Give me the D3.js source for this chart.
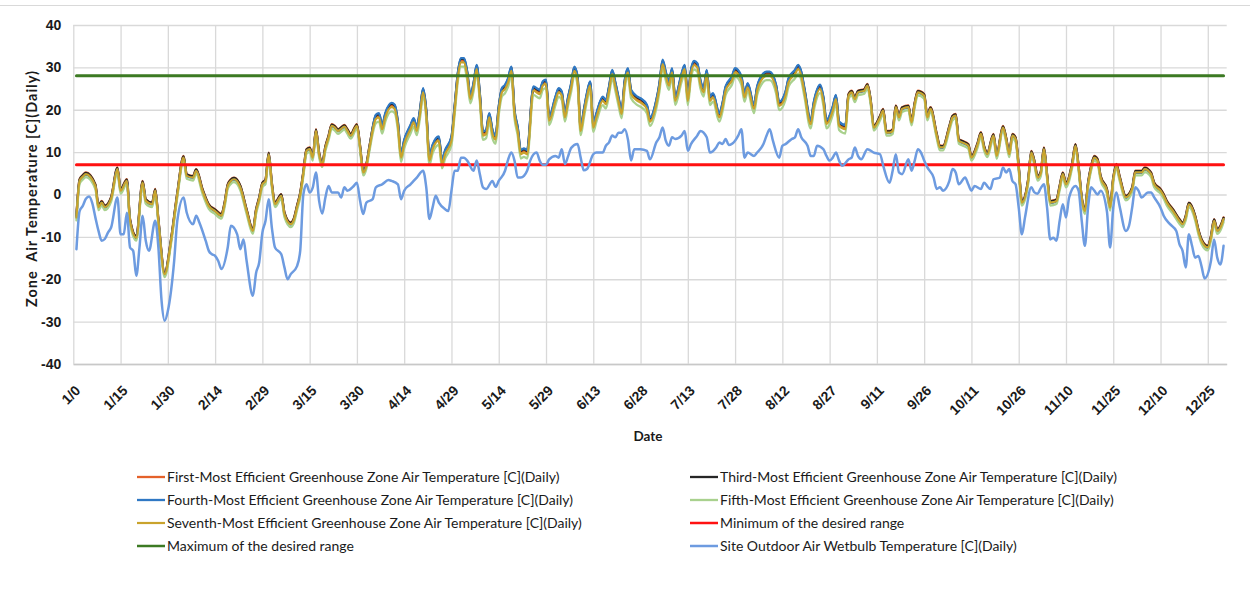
<!DOCTYPE html>
<html>
<head>
<meta charset="utf-8">
<script src="https://cdn.jsdelivr.net/npm/d3@7/dist/d3.min.js"></script>
<style>
  html, body { margin: 0; padding: 0; background: #ffffff; }
  svg { display: block; font-family: Lato, "Open Sans", "Liberation Sans", sans-serif; }
</style>
</head>
<body>
<svg id="chart" width="1250" height="603"></svg>
<script>
// ---- Axis ticks ----
const tickDays = [0,15,30,45,60,75,90,105,120,135,150,165,180,195,210,225,240,255,270,285,300,315,330,345,360];
const tickLabels = ["1/0","1/15","1/30","2/14","2/29","3/15","3/30","4/14","4/29","5/14","5/29","6/13","6/28",
  "7/13","7/28","8/12","8/27","9/11","9/26","10/11","10/26","11/10","11/25","12/10","12/25"];
const yTicks = [-40,-30,-20,-10,0,10,20,30,40];

// ---- Greenhouse zone air temperature (day of year, °C) ----
const zoneDays = [1,2,3,4,7,8,9,10,12,14,15,17,18,20,22,23,25,26,27,29,31,33,35,36,38,39,41,43,45,47,48,49,50,51,53,55,57,58,59,60,61,62,63,64,66,67,69,70,71,72,73,74,75,76,77,78,79,80,81,82,83,84,85,86,87,88,90,91,92,93,94,
  96,97,98,99,101,102,103,104,105,107,108,109,110,111,112,113,114,116,117,118,120,121,122,123,124,125,126,127,128,129,130,131,132,133,134,135,136,137,138,139,140,141,142,143,144,146,148,149,150,151,153,154,155,156,157,158,159,160,161,162,163,164,165,166,168,169,170,171,172,173,174,175,176,177,179,180,182,183,185,186,187,188,189,190,191,193,194,195,196,197,198,199,200,201,202,203,205,206,207,209,210,212,213,214,216,217,219,220,221,223,224,226,227,229,230,231,232,234,235,237,238,239,241,242,243,245,
  246,247,248,249,251,252,253,254,256,257,258,259,260,261,262,263,265,266,267,268,270,271,272,274,275,276,278,279,280,281,282,284,285,
  287,288,289,290,292,293,295,296,297,298,299,300,301,303,304,305,306,307,308,309,310,311,312,313,314,315,317,318,319,320,321,322,323,324,325,326,328,329,330,331,332,334,336,337,339,340,342,343,345,346,347,349,351,352,353,354,356,357,358,360,361,362,363,364,365];

const firstMost = [-5.0,3.6,4.6,5.2,2.4,-2.6,-1.5,-2.6,-0.6,6.4,1.3,3.6,-5.8,-9.8,3.2,-1.1,-1.9,1.3,-5.8,-18.4,-10.6,0.4,9.1,4.8,4.4,6.0,1.3,-2.3,-3.5,-4.6,-1.9,2.4,3.6,4.0,2.1,-3.5,-8.2,-3.5,-0.6,2.8,3.6,9.9,2.8,-1.9,0.1,-4.2,-6.6,-5.6,-2.6,0.4,5.4,10.7,11.1,9.1,15.4,9.9,7.6,11.4,13.9,16.6,16.2,15.4,15.9,16.4,15.4,14.3,16.6,11.5,5.6,7.2,11.5,
  18.2,18.6,15.8,18.6,21.0,20.6,16.6,9.1,12.3,15.8,17.4,15.4,19.4,24.5,19.4,8.4,11.1,13.1,7.6,9.9,13.1,20.2,28.0,31.6,31.6,28.4,22.9,25.7,30.0,23.3,14.3,14.7,18.6,14.7,13.4,20.2,24.5,25.3,26.9,29.6,19.4,15.4,9.9,10.3,9.9,24.9,24.1,26.1,26.5,17.8,22.5,24.5,23.7,18.6,22.4,25.7,29.6,27.3,15.4,19.4,23.4,26.1,16.2,18.6,22.5,21.7,24.9,28.8,25.9,22.4,19.4,26.5,29.2,24.1,22.5,22.1,20.6,17.6,21.7,25.7,31.2,28.4,26.1,29.2,22.5,27.9,30.0,22.5,28.8,30.9,30.4,26.4,24.5,28.8,22.5,23.3,18.6,21.0,24.9,27.3,29.2,27.3,23.3,25.7,20.6,24.9,28.0,28.4,28.4,25.3,21.3,23.7,26.9,28.8,30.0,28.4,24.5,17.0,21.3,25.3,22.5,17.0,20.2,22.9,16.6,15.8,
  23.7,24.5,22.9,24.5,24.9,26.1,22.5,16.2,18.6,20.2,15.0,15.0,15.4,21.0,18.6,20.6,21.0,17.4,21.7,24.5,23.7,18.6,20.6,14.3,11.5,11.5,16.2,18.6,19.0,13.1,12.7,11.9,9.1,
  12.3,14.7,11.5,9.9,14.3,9.5,16.2,13.5,9.9,14.3,13.5,6.8,-1.5,3.6,10.3,7.9,4.4,5.4,11.1,4.8,-1.5,-1.4,-1.1,2.1,5.2,2.8,7.6,11.9,6.8,-0.6,-3.5,2.8,6.8,9.1,8.4,4.4,1.3,-2.7,4.0,7.2,4.4,-0.3,1.7,5.6,5.6,6.4,5.2,2.8,1.3,0.1,-1.5,-3.5,-5.8,-6.6,-5.0,-1.9,-5.0,-8.2,-10.5,-12.1,-9.8,-5.8,-8.2,-7.4,-5.4];

const thirdMost = [-5.1,3.5,4.5,5.1,2.3,-2.7,-1.6,-2.7,-0.7,6.3,1.2,3.5,-5.9,-9.9,3.1,-1.2,-2.0,1.2,-5.9,-18.5,-10.7,0.3,9.0,4.7,4.3,5.9,1.2,-2.4,-3.6,-4.7,-2.0,2.3,3.5,3.9,2.0,-3.6,-8.3,-3.6,-0.7,2.7,3.5,9.8,2.7,-2.0,0.0,-4.3,-6.7,-5.7,-2.7,0.3,5.3,10.6,11.0,9.0,15.3,9.8,7.5,11.3,13.8,16.5,16.1,15.3,15.8,16.3,15.3,14.2,16.5,11.4,5.5,7.1,11.4,
  18.6,19.0,16.2,19.0,21.4,21.0,17.0,9.5,12.7,16.2,17.8,15.8,19.8,24.9,19.8,8.8,11.5,13.5,8.0,10.3,13.5,20.6,28.4,32.0,32.0,28.8,23.3,26.1,30.4,23.7,14.7,15.1,19.0,15.1,13.8,20.6,24.9,25.7,27.3,30.0,19.8,15.8,10.3,10.7,10.3,25.3,24.5,26.5,26.9,18.2,22.9,24.9,24.1,19.0,22.8,26.1,30.0,27.7,15.8,19.8,23.8,26.5,16.6,19.0,22.9,22.1,25.3,29.2,26.3,22.8,19.8,26.9,29.6,24.5,22.9,22.5,21.0,18.0,22.1,26.1,31.6,28.8,26.5,29.6,22.9,28.3,30.4,22.9,29.2,31.3,30.8,26.8,24.9,29.2,22.9,23.7,19.0,21.4,25.3,27.7,29.6,27.7,23.7,26.1,21.0,25.3,28.4,28.8,28.8,25.7,21.7,24.1,27.3,29.2,30.4,28.8,24.9,17.4,21.7,25.7,22.9,17.4,20.6,23.3,17.0,16.2,
  23.6,24.4,22.8,24.4,24.8,26.0,22.4,16.1,18.5,20.1,14.9,14.9,15.3,20.9,18.5,20.5,20.9,17.3,21.6,24.4,23.6,18.5,20.5,14.2,11.4,11.4,16.1,18.5,18.9,13.0,12.6,11.8,9.0,
  12.2,14.6,11.4,9.8,14.2,9.4,16.1,13.4,9.8,14.2,13.4,6.7,-1.6,3.5,10.2,7.8,4.3,5.3,11.0,4.7,-1.6,-1.5,-1.2,2.0,5.1,2.7,7.5,11.8,6.7,-0.7,-3.6,2.7,6.7,9.0,8.3,4.3,1.2,-2.8,3.9,7.1,4.3,-0.4,1.6,5.5,5.5,6.3,5.1,2.7,1.2,0.0,-1.6,-3.6,-5.9,-6.7,-5.1,-2.0,-5.1,-8.3,-10.6,-12.2,-9.9,-5.9,-8.3,-7.5,-5.5];

const fourthMost = [-5.5,3.1,4.1,4.7,1.9,-3.1,-2.0,-3.1,-1.1,5.9,0.8,3.1,-6.3,-10.3,2.7,-1.6,-2.4,0.8,-6.3,-18.9,-11.1,-0.1,8.6,4.3,3.9,5.5,0.8,-2.8,-4.0,-5.1,-2.4,1.9,3.1,3.5,1.6,-4.0,-8.7,-4.0,-1.1,2.3,3.1,9.4,2.3,-2.4,-0.4,-4.7,-7.1,-6.1,-3.1,-0.1,4.9,10.2,10.6,8.6,14.9,9.4,7.1,10.9,13.4,16.1,15.7,14.9,15.4,15.9,14.9,13.8,16.1,11.0,5.1,6.7,11.0,
  18.8,19.2,16.4,19.2,21.6,21.2,17.2,9.7,12.9,16.4,18.0,16.0,20.0,25.1,20.0,9.0,11.7,13.7,8.2,10.5,13.7,20.8,28.6,32.2,32.2,29.0,23.5,26.3,30.6,23.9,14.9,15.3,19.2,15.3,14.0,20.8,25.1,25.9,27.5,30.2,20.0,16.0,10.5,10.9,10.5,25.5,24.7,26.7,27.1,18.4,23.1,25.1,24.3,19.2,23.0,26.3,30.2,27.9,16.0,20.0,24.0,26.7,16.8,19.2,23.1,22.3,25.5,29.4,26.5,23.0,20.0,27.1,29.8,24.7,23.1,22.7,21.2,18.2,22.3,26.3,31.8,29.0,26.7,29.8,23.1,28.5,30.6,23.1,29.4,31.5,31.0,27.0,25.1,29.4,23.1,23.9,19.2,21.6,25.5,27.9,29.8,27.9,23.9,26.3,21.2,25.5,28.6,29.0,29.0,25.9,21.9,24.3,27.5,29.4,30.6,29.0,25.1,17.6,21.9,25.9,23.1,17.6,20.8,23.5,17.2,16.4,
  23.2,24.0,22.4,24.0,24.4,25.6,22.0,15.7,18.1,19.7,14.5,14.5,14.9,20.5,18.1,20.1,20.5,16.9,21.2,24.0,23.2,18.1,20.1,13.8,11.0,11.0,15.7,18.1,18.5,12.6,12.2,11.4,8.6,
  11.8,14.2,11.0,9.4,13.8,9.0,15.7,13.0,9.4,13.8,13.0,6.3,-2.0,3.1,9.8,7.4,3.9,4.9,10.6,4.3,-2.0,-1.9,-1.6,1.6,4.7,2.3,7.1,11.4,6.3,-1.1,-4.0,2.3,6.3,8.6,7.9,3.9,0.8,-3.2,3.5,6.7,3.9,-0.8,1.2,5.1,5.1,5.9,4.7,2.3,0.8,-0.4,-2.0,-4.0,-6.3,-7.1,-5.5,-2.4,-5.5,-8.7,-11.0,-12.6,-10.3,-6.3,-8.7,-7.9,-5.9];

const fifthMost = [-6.1,2.5,3.5,4.1,1.3,-3.7,-2.6,-3.7,-1.7,5.3,0.2,2.5,-6.9,-10.9,2.1,-2.2,-3.0,0.2,-6.9,-19.5,-11.7,-0.7,8.0,3.7,3.3,4.9,0.2,-3.4,-4.6,-5.7,-3.0,1.3,2.5,2.9,1.0,-4.6,-9.3,-4.6,-1.7,1.7,2.5,8.8,1.7,-3.0,-1.0,-5.3,-7.7,-6.7,-3.7,-0.7,4.3,9.6,10.0,8.0,14.3,8.8,6.5,10.3,12.8,15.5,15.1,14.3,14.8,15.3,14.3,13.2,15.5,10.4,4.5,6.1,10.4,
  16.8,17.2,14.4,17.2,19.6,19.2,15.2,7.7,10.9,14.4,16.0,14.0,18.0,23.1,18.0,7.0,9.7,11.7,6.2,8.5,11.7,18.8,26.6,30.2,30.2,27.0,21.5,24.3,28.6,21.9,12.9,13.3,17.2,13.3,12.0,18.8,23.1,23.9,25.5,28.2,18.0,14.0,8.5,8.9,8.5,23.5,22.7,24.7,25.1,16.4,21.1,23.1,22.3,17.2,21.0,24.3,28.2,25.9,14.0,18.0,22.0,24.7,14.8,17.2,21.1,20.3,23.5,27.4,24.5,21.0,18.0,25.1,27.8,22.7,21.1,20.7,19.2,16.2,20.3,24.3,29.8,27.0,24.7,27.8,21.1,26.5,28.6,21.1,27.4,29.5,29.0,25.0,23.1,27.4,21.1,21.9,17.2,19.6,23.5,25.9,27.8,25.9,21.9,24.3,19.2,23.5,26.6,27.0,27.0,23.9,19.9,22.3,25.5,27.4,28.6,27.0,23.1,15.6,19.9,23.9,21.1,15.6,18.8,21.5,15.2,14.4,
  22.6,23.4,21.8,23.4,23.8,25.0,21.4,15.1,17.5,19.1,13.9,13.9,14.3,19.9,17.5,19.5,19.9,16.3,20.6,23.4,22.6,17.5,19.5,13.2,10.4,10.4,15.1,17.5,17.9,12.0,11.6,10.8,8.0,
  11.2,13.6,10.4,8.8,13.2,8.4,15.1,12.4,8.8,13.2,12.4,5.7,-2.6,2.5,9.2,6.8,3.3,4.3,10.0,3.7,-2.6,-2.5,-2.2,1.0,4.1,1.7,6.5,10.8,5.7,-1.7,-4.6,1.7,5.7,8.0,7.3,3.3,0.2,-3.8,2.9,6.1,3.3,-1.4,0.6,4.5,4.5,5.3,4.1,1.7,0.2,-1.0,-2.6,-4.6,-6.9,-7.7,-6.1,-3.0,-6.1,-9.3,-11.6,-13.2,-10.9,-6.9,-9.3,-8.5,-6.5];

const seventhMost = [-5.4,3.2,4.2,4.8,2.0,-3.0,-1.9,-3.0,-1.0,6.0,0.9,3.2,-6.2,-10.2,2.8,-1.5,-2.3,0.9,-6.2,-18.8,-11.0,0.0,8.7,4.4,4.0,5.6,0.9,-2.7,-3.9,-5.0,-2.3,2.0,3.2,3.6,1.7,-3.9,-8.6,-3.9,-1.0,2.4,3.2,9.5,2.4,-2.3,-0.3,-4.6,-7.0,-6.0,-3.0,0.0,5.0,10.3,10.7,8.7,15.0,9.5,7.2,11.0,13.5,16.2,15.8,15.0,15.5,16.0,15.0,13.9,16.2,11.1,5.2,6.8,11.1,
  17.8,18.2,15.4,18.2,20.6,20.2,16.2,8.7,11.9,15.4,17.0,15.0,19.0,24.1,19.0,8.0,10.7,12.7,7.2,9.5,12.7,19.8,27.6,31.2,31.2,28.0,22.5,25.3,29.6,22.9,13.9,14.3,18.2,14.3,13.0,19.8,24.1,24.9,26.5,29.2,19.0,15.0,9.5,9.9,9.5,24.5,23.7,25.7,26.1,17.4,22.1,24.1,23.3,18.2,22.0,25.3,29.2,26.9,15.0,19.0,23.0,25.7,15.8,18.2,22.1,21.3,24.5,28.4,25.5,22.0,19.0,26.1,28.8,23.7,22.1,21.7,20.2,17.2,21.3,25.3,30.8,28.0,25.7,28.8,22.1,27.5,29.6,22.1,28.4,30.5,30.0,26.0,24.1,28.4,22.1,22.9,18.2,20.6,24.5,26.9,28.8,26.9,22.9,25.3,20.2,24.5,27.6,28.0,28.0,24.9,20.9,23.3,26.5,28.4,29.6,28.0,24.1,16.6,20.9,24.9,22.1,16.6,19.8,22.5,16.2,15.4,
  23.3,24.1,22.5,24.1,24.5,25.7,22.1,15.8,18.2,19.8,14.6,14.6,15.0,20.6,18.2,20.2,20.6,17.0,21.3,24.1,23.3,18.2,20.2,13.9,11.1,11.1,15.8,18.2,18.6,12.7,12.3,11.5,8.7,
  11.9,14.3,11.1,9.5,13.9,9.1,15.8,13.1,9.5,13.9,13.1,6.4,-1.9,3.2,9.9,7.5,4.0,5.0,10.7,4.4,-1.9,-1.8,-1.5,1.7,4.8,2.4,7.2,11.5,6.4,-1.0,-3.9,2.4,6.4,8.7,8.0,4.0,0.9,-3.1,3.6,6.8,4.0,-0.7,1.3,5.2,5.2,6.0,4.8,2.4,0.9,-0.3,-1.9,-3.9,-6.2,-7.0,-5.4,-2.3,-5.4,-8.6,-10.9,-12.5,-10.2,-6.2,-8.6,-7.8,-5.8];

// ---- Desired range limits (°C) ----
const rangeDays = [1, 365];
const minimumRange = [7, 7];
const maximumRange = [28, 28];

// ---- Site outdoor wet-bulb temperature: [day, °C] ----
const wetbulb = [[1,-12.9],[2,-3.9],[3,-2.7],[4,-1.0],[5,-0.5],[6,-2.0],[7,-5.4],[8,-8.6],[9,-10.9],[10,-10.5],[11,-9.0],[12,-7.8],[14,-0.7],[15,-9.4],[16,-9.4],[17,-4.3],[18,-12.5],[19,-13.3],[20,-19.2],[21,-12.5],[22,-5.0],[23,-10.9],[24,-13.3],[26,-6.2],[27,-12.5],[28,-25.0],[29,-29.8],[30,-27.5],[32,-15.7],[33,-6.2],[35,-0.7],[36,-4.3],[38,-7.0],[39,-5.0],[40,-6.6],[42,-10.9],[43,-13.3],[44,-14.1],[45,-14.5],[46,-15.7],[47,-17.6],[49,-12.5],[50,-7.4],[52,-9.4],[53,-12.9],[54,-10.6],[55,-15.7],[57,-23.9],[58,-18.5],[59,-16.0],[60,-9.0],[61,-6.2],[62,-1.1],[63,-7.8],[64,-12.5],[66,-14.1],[67,-17.2],[68,-20.0],[69,-18.8],[71,-16.9],[72,-13.3],[73,0.0],[74,2.4],[75,0.5],[76,1.7],[77,5.2],[78,-1.5],[79,-4.5],[80,-0.7],[81,2.0],[82,0.5],[84,0.5],[85,-0.7],[86,1.7],[87,0.9],[89,2.0],[90,2.8],[91,-1.5],[92,-4.6],[93,-1.9],[95,-1.1],[96,1.7],[98,2.4],[100,3.4],[101,3.2],[103,2.4],[104,-1.1],[105,0.9],[107,2.4],[108,3.2],[109,4.0],[111,5.6],[112,1.7],[113,-5.8],[114,-3.1],[115,-0.3],[116,-1.9],[118,-3.5],[119,-3.9],[120,0.9],[121,5.6],[122,5.6],[123,8.7],[124,8.7],[125,8.0],[127,5.6],[128,8.0],[129,4.8],[130,1.7],[131,1.3],[133,3.2],[134,1.8],[135,3.2],[137,5.6],[138,8.3],[139,9.9],[140,8.0],[141,4.0],[142,4.0],[143,4.4],[144,5.6],[145,8.0],[147,9.9],[148,8.0],[149,7.0],[150,7.0],[151,8.3],[153,9.1],[154,8.7],[155,10.7],[156,7.2],[157,9.0],[158,11.0],[160,11.9],[161,8.7],[162,5.7],[163,6.0],[165,9.5],[166,9.9],[168,9.9],[169,11.5],[170,12.3],[171,13.9],[172,13.5],[173,14.6],[174,14.6],[175,15.4],[176,13.0],[177,8.0],[178,10.7],[180,10.7],[182,10.3],[183,8.3],[185,12.3],[186,13.5],[187,15.8],[188,12.7],[189,11.5],[190,13.5],[191,13.1],[193,13.9],[194,15.0],[195,10.3],[196,11.9],[198,13.9],[199,15.0],[201,13.5],[202,9.9],[204,11.1],[205,12.3],[206,11.9],[207,13.1],[208,11.7],[210,12.7],[211,13.9],[212,15.4],[213,8.7],[214,9.9],[216,9.1],[217,9.9],[219,11.9],[220,13.9],[221,15.4],[222,12.7],[224,8.7],[225,11.5],[226,11.9],[228,13.1],[229,13.5],[230,15.4],[231,13.5],[233,11.5],[234,9.1],[235,9.1],[236,11.5],[238,10.7],[239,9.1],[240,8.0],[241,8.7],[242,9.9],[243,8.0],[244,6.8],[245,7.4],[246,8.3],[247,8.7],[248,11.1],[249,9.1],[250,8.3],[252,10.7],[254,9.9],[256,9.5],[257,6.8],[259,2.8],[260,5.6],[261,9.5],[262,5.2],[263,4.8],[265,8.3],[266,5.6],[267,8.0],[268,10.7],[269,9.9],[270,8.0],[271,6.4],[273,4.0],[274,1.3],[275,1.7],[276,0.9],[278,3.2],[279,6.0],[280,5.2],[281,2.4],[283,4.0],[284,2.4],[285,0.9],[286,2.0],[288,1.3],[289,2.8],[290,2.0],[291,1.3],[292,3.6],[294,4.0],[295,6.4],[296,5.2],[297,6.0],[298,3.2],[299,2.4],[300,-3.1],[301,-9.4],[302,-5.4],[304,1.7],[305,0.5],[306,0.2],[307,1.5],[308,2.4],[309,-3.1],[310,-10.6],[311,-10.2],[312,-10.9],[313,-6.2],[314,-2.3],[315,-5.4],[316,-0.7],[318,2.0],[319,0.9],[320,-6.2],[321,-12.1],[322,-3.1],[323,1.7],[324,0.9],[325,0.0],[326,0.9],[328,-4.0],[329,-12.5],[330,-3.1],[331,0.5],[332,-2.7],[334,-8.6],[335,-7.4],[336,-3.1],[337,1.7],[338,0.9],[339,-0.7],[341,0.5],[342,0.5],[343,-0.7],[345,-3.1],[346,-5.0],[348,-7.0],[350,-8.6],[351,-11.7],[352,-13.3],[353,-17.2],[354,-9.4],[355,-12.1],[356,-14.9],[357,-14.5],[358,-16.9],[359,-19.8],[361,-15.7],[362,-10.6],[363,-14.9],[364,-16.5],[365,-12.1]];

// ---- Series styling / legend order ----
const seriesNames = [
  "First-Most Efficient Greenhouse Zone Air Temperature [C](Daily)",
  "Third-Most Efficient Greenhouse Zone Air Temperature [C](Daily)",
  "Fourth-Most Efficient Greenhouse Zone Air Temperature [C](Daily)",
  "Fifth-Most Efficient Greenhouse Zone Air Temperature [C](Daily)",
  "Seventh-Most Efficient Greenhouse Zone Air Temperature [C](Daily)",
  "Minimum of the desired range",
  "Maximum of the desired range",
  "Site Outdoor Air Wetbulb Temperature [C](Daily)"
];
const seriesColors = ["#e4612a", "#262626", "#2f78c4", "#a9d18e", "#c9a32c", "#ff1111", "#3c7a23", "#6d9be0"];
const seriesWidths = [2.3, 2.3, 2.3, 2.3, 2.2, 3, 3, 2.5];

// ---- Build point lists ----
const zoneValues = [firstMost, thirdMost, fourthMost, fifthMost, seventhMost];
const seriesPoints = zoneValues.map(vals =>
  zoneDays.map((d, i) => [d, vals[i]]).filter(p => p[1] !== undefined));
seriesPoints.push(rangeDays.map((d, i) => [d, minimumRange[i]]));
seriesPoints.push(rangeDays.map((d, i) => [d, maximumRange[i]]));
seriesPoints.push(wetbulb);

// ---- Layout ----
const svg = d3.select("#chart");
const plot = { left: 73.3, right: 1226.7, top: 25, bottom: 364 };
const x = d3.scaleLinear().domain([0, 366]).range([plot.left, plot.right]);
const y = d3.scaleLinear().domain([-40, 40]).range([plot.bottom, plot.top]);

svg.append("rect").attr("width", 1250).attr("height", 603).attr("fill", "#ffffff");
svg.append("line").attr("x1", 0).attr("x2", 1250).attr("y1", 5.5).attr("y2", 5.5)
  .attr("stroke", "#d9d9d9").attr("stroke-width", 1);

// Horizontal gridlines + y labels
const gy = svg.append("g").attr("transform", `translate(${plot.left},0)`)
  .call(d3.axisLeft(y).tickValues(yTicks).tickFormat(d => String(d))
    .tickSize(-(plot.right - plot.left)).tickSizeOuter(0).tickPadding(12));
gy.select(".domain").remove();
gy.selectAll(".tick line").attr("stroke", "#d9d9d9").attr("stroke-width", 1.3);
gy.selectAll(".tick text").attr("fill", "#1a1a1a").attr("font-size", 14).attr("font-weight", 700);

// Vertical gridlines + date labels
const gx = svg.append("g").attr("transform", `translate(0,${plot.bottom})`)
  .call(d3.axisBottom(x).tickValues(tickDays).tickFormat((d, i) => tickLabels[i])
    .tickSize(-(plot.bottom - plot.top)).tickSizeOuter(0));
gx.select(".domain").attr("stroke", "#c8c8c8").attr("stroke-width", 1.3);
gx.selectAll(".tick line").attr("stroke", "#d9d9d9").attr("stroke-width", 1.3);
gx.selectAll(".tick text")
  .attr("fill", "#1a1a1a").attr("font-size", 14).attr("font-weight", 700)
  .attr("text-anchor", "end").attr("x", 0).attr("y", 0).attr("dy", "0.35em")
  .attr("transform", "translate(4,24) rotate(-45)");

// Series lines
const line = d3.line().x(p => x(p[0])).y(p => y(p[1])).curve(d3.curveMonotoneX);
svg.append("g").selectAll("path").data(seriesPoints).join("path")
  .attr("d", line)
  .attr("fill", "none")
  .attr("stroke", (d, i) => seriesColors[i])
  .attr("stroke-width", (d, i) => seriesWidths[i])
  .attr("stroke-linejoin", "round").attr("stroke-linecap", "round");

// Axis titles
svg.append("text").attr("transform", "translate(37,189) rotate(-90)")
  .attr("text-anchor", "middle").attr("font-size", 14.5).attr("font-weight", 700)
  .attr("fill", "#1a1a1a").style("white-space", "pre")
  .attr("textLength", 236).attr("lengthAdjust", "spacing")
  .text("Zone  Air Temperature [C](Daily)");
svg.append("text").attr("x", 648).attr("y", 441)
  .attr("text-anchor", "middle").attr("font-size", 13.5).attr("font-weight", 700)
  .attr("fill", "#1a1a1a").text("Date");

// Legend (two columns, row-major)
const legendCols = [137, 690];
const legendRows = [477, 500, 523, 546];
const legend = svg.append("g").selectAll("g").data(seriesNames).join("g")
  .attr("transform", (d, i) => `translate(${legendCols[i % 2]},${legendRows[Math.floor(i / 2)]})`);
legend.append("line").attr("x1", 0).attr("x2", 28).attr("y1", 0).attr("y2", 0)
  .attr("stroke", (d, i) => seriesColors[i])
  .attr("stroke-width", (d, i) => Math.min(seriesWidths[i], 2.5));
legend.append("text").attr("x", 30).attr("y", 0).attr("dy", "0.35em")
  .attr("font-size", 14).attr("fill", "#1a1a1a").text(d => d);
</script>
</body>
</html>
